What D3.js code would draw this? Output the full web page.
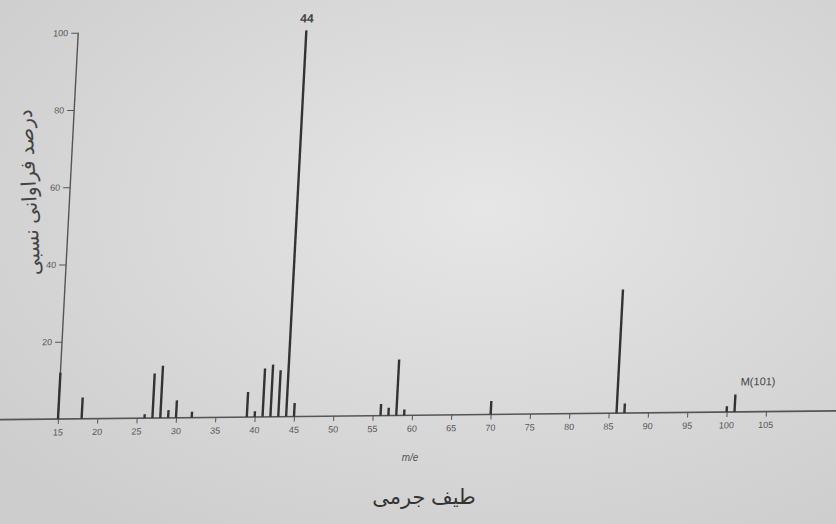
<!DOCTYPE html>
<html>
<head>
<meta charset="utf-8">
<script src="https://cdn.jsdelivr.net/npm/d3@7"></script>
<style>
  body { margin: 0; background: #dcdcdc; }
  svg { display: block; }
</style>
</head>
<body>
<div id="chart"></div>
<script>
// Mass spectrum peaks (m/z, relative abundance %)
const mz =        [15, 18, 26, 27, 28, 29, 30, 32, 39, 40, 41, 42, 43, 44, 45, 56, 57, 58, 59, 70, 86, 87, 100, 101];
const abundance = [12, 5.5, 1, 11.5, 13.5, 2, 4.5, 1.5, 6.5, 1.5, 12.5, 13.5, 12, 100, 3.5, 3, 2, 14.5, 1.5, 3.5, 32, 2.5, 1.5, 4.5];
const xTicks = [15, 20, 25, 30, 35, 40, 45, 50, 55, 60, 65, 70, 75, 80, 85, 90, 95, 100, 105];
const yTicks = [20, 40, 60, 80, 100];
const peakLabels = [{ mz: 44, text: "44" }, { mz: 101, text: "M(101)" }];

const width = 836, height = 524;

const svg = d3.select("#chart").append("svg")
    .attr("width", width)
    .attr("height", height);

// paper-like background
const grad = svg.append("defs").append("radialGradient")
    .attr("id", "paper").attr("cx", "58%").attr("cy", "40%").attr("r", "75%");
grad.append("stop").attr("offset", "0%").attr("stop-color", "#e6e6e6");
grad.append("stop").attr("offset", "100%").attr("stop-color", "#cdcdcd");
svg.append("rect").attr("width", width).attr("height", height).attr("fill", "url(#paper)");

// scales (origin at the baseline / m/z 15)
const x = d3.scaleLinear().domain([15, 105]).range([0, 708]);
const y = d3.scaleLinear().domain([0, 100]).range([0, -386]);

// photographed page is slightly tilted / skewed
const g = svg.append("g")
    .attr("transform", "translate(58,419) rotate(-0.6) skewX(-3.6)");

// long baseline across the page
g.append("line")
    .attr("x1", -80).attr("x2", 800)
    .attr("y1", 0).attr("y2", 0)
    .attr("stroke", "#555").attr("stroke-width", 1.6);

// x axis ticks
const xAxis = g.append("g")
    .call(d3.axisBottom(x).tickValues(xTicks).tickSize(5).tickPadding(5));
xAxis.select(".domain").remove();
xAxis.selectAll("line").attr("stroke", "#555");
xAxis.selectAll("text")
    .attr("fill", "#555")
    .style("font-family", "'Liberation Sans', sans-serif")
    .style("font-size", "9px");

// y axis
const yAxis = g.append("g")
    .call(d3.axisLeft(y).tickValues(yTicks).tickSize(7).tickPadding(3));
yAxis.select(".domain").remove();
yAxis.selectAll("line").attr("stroke", "#555");
yAxis.selectAll("text")
    .attr("fill", "#555")
    .style("font-family", "'Liberation Sans', sans-serif")
    .style("font-size", "9px");
g.append("line")
    .attr("x1", 0).attr("x2", 0)
    .attr("y1", 0).attr("y2", y(100))
    .attr("stroke", "#555").attr("stroke-width", 1.4);

// peaks
g.selectAll(".peak")
    .data(mz.map((m, i) => ({ mz: m, v: abundance[i] })))
    .enter().append("rect")
    .attr("class", "peak")
    .attr("x", d => x(d.mz) - 1.2)
    .attr("y", d => y(d.v))
    .attr("width", 2.4)
    .attr("height", d => -y(d.v))
    .attr("fill", "#333");

// peak annotations
g.selectAll(".plabel")
    .data(peakLabels)
    .enter().append("text")
    .attr("class", "plabel")
    .attr("x", d => x(d.mz) + (d.mz === 101 ? 22 : 0))
    .attr("y", d => y(abundance[mz.indexOf(d.mz)]) - (d.mz === 101 ? 9 : 8))
    .attr("text-anchor", "middle")
    .attr("fill", "#444")
    .style("font-family", "'Liberation Sans', sans-serif")
    .style("font-size", d => d.mz === 44 ? "12px" : "11px")
    .style("font-weight", d => d.mz === 44 ? "bold" : "normal")
    .text(d => d.text);

// x axis label
svg.append("text")
    .attr("x", 410).attr("y", 461)
    .attr("text-anchor", "middle")
    .attr("fill", "#555")
    .style("font-family", "'Liberation Sans', sans-serif")
    .style("font-size", "10px")
    .style("font-style", "italic")
    .text("m/e");

// y axis label
svg.append("text")
    .attr("transform", "translate(36,192) rotate(-93)")
    .attr("text-anchor", "middle")
    .attr("fill", "#444")
    .style("font-family", "'Noto Sans', 'DejaVu Sans', sans-serif")
    .style("font-size", "20px")
    .text("درصد فراوانی نسبی");

// title
svg.append("text")
    .attr("x", 424).attr("y", 504)
    .attr("text-anchor", "middle")
    .attr("fill", "#333")
    .style("font-family", "'Noto Sans', 'DejaVu Sans', sans-serif")
    .style("font-size", "21px")
    .text("طیف جرمی");
</script>
</body>
</html>
